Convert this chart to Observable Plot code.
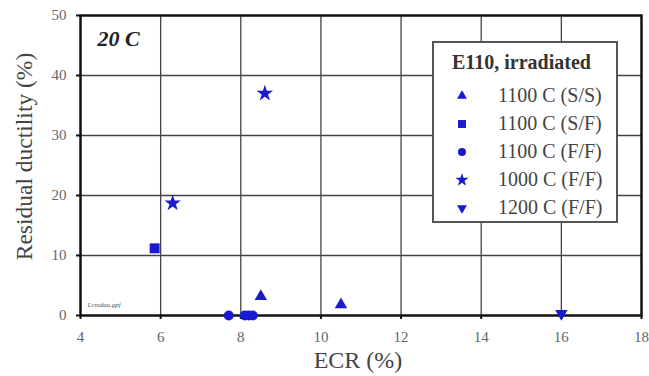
<!DOCTYPE html>
<html>
<head>
<meta charset="utf-8">
<script src="https://cdn.jsdelivr.net/npm/d3@7"></script>
<script src="https://cdn.jsdelivr.net/npm/@observablehq/plot@0.6"></script>
<style>
  body { margin: 0; background: #fff; }
  #wrap { position: relative; width: 649px; height: 376px; font-family: "Liberation Serif", "Times New Roman", "DejaVu Serif", serif; }
  #wrap > svg { position: absolute; left: 0; top: 0; }
  #legend { position: absolute; left: 432px; top: 41px; width: 182px; height: 178px;
            border: 2px solid #555; background: #fff; font-family: "Liberation Serif", "Times New Roman", "DejaVu Serif", serif; }
  #legend .title { font-weight: bold; font-size: 20px; color: #333; position: absolute; left: 18px; top: 8px; white-space: nowrap; }
  #legend .row { position: absolute; left: 0; height: 28px; width: 182px; font-size: 20px; color: #444; white-space: nowrap; }
  #legend .row svg { position: absolute; left: 20px; top: 5px; }
  #legend .row span { position: absolute; left: 64px; top: 1px; }
</style>
</head>
<body>
<div id="wrap"></div>
<script>
// ---- data ----
const xTicks = [4, 6, 8, 10, 12, 14, 16, 18];
const yTicks = [0, 10, 20, 30, 40, 50];
const seriesNames = ["1100 C (S/S)", "1100 C (S/F)", "1100 C (F/F)", "1000 C (F/F)", "1200 C (F/F)"];
const ss1100X = [8.5, 10.5];
const ss1100Y = [3.2, 1.8];
const sf1100X = [5.85];
const sf1100Y = [11.2];
const ff1100X = [7.7, 8.1, 8.2, 8.3];
const ff1100Y = [0, 0, 0, 0];
const ff1000X = [6.3, 8.6];
const ff1000Y = [18.7, 37];
const ff1200X = [16.0];
const ff1200Y = [0.3];

const blue = "#1a1ad0";
const serif = "'Liberation Serif', 'Times New Roman', 'DejaVu Serif', serif";

const triangleDown = {
  draw(context, size) {
    const sqrt3 = Math.sqrt(3);
    const y = -Math.sqrt(size / (sqrt3 * 3));
    context.moveTo(0, -y * 2);
    context.lineTo(-sqrt3 * y, y);
    context.lineTo(sqrt3 * y, y);
    context.closePath();
  }
};

const pts = (xs, ys) => xs.map((x, i) => ({x, y: ys[i]}));
const series = [
  {name: seriesNames[0], data: pts(ss1100X, ss1100Y), symbol: d3.symbolTriangle, r: 4.6},
  {name: seriesNames[1], data: pts(sf1100X, sf1100Y), symbol: d3.symbolSquare, r: 5.6},
  {name: seriesNames[2], data: pts(ff1100X, ff1100Y), symbol: d3.symbolCircle, r: 5},
  {name: seriesNames[3], data: pts(ff1000X, ff1000Y), symbol: d3.symbolStar, r: 5.2},
  {name: seriesNames[4], data: pts(ff1200X, ff1200Y), symbol: triangleDown, r: 4.6}
];

const chart = Plot.plot({
  width: 649,
  height: 376,
  marginLeft: 80,
  marginRight: 8,
  marginTop: 15,
  marginBottom: 61,
  style: {fontFamily: serif, fontSize: "15px", background: "transparent"},
  x: {domain: [4, 18]},
  y: {domain: [0, 50]},
  marks: [
    Plot.gridX(xTicks.slice(1, -1), {stroke: "#444", strokeOpacity: 1, strokeWidth: 1.3}),
    Plot.gridY(yTicks.slice(1, -1), {stroke: "#444", strokeOpacity: 1, strokeWidth: 1.3}),
    Plot.frame({stroke: "#111", strokeWidth: 2.5}),
    Plot.axisX(xTicks, {tickSize: 4, tickPadding: 12, fontSize: 15, fontFamily: serif, fill: "#666", stroke: "#111", strokeWidth: 2, label: null}),
    Plot.axisY(yTicks, {tickSize: 4, tickPadding: 10, fontSize: 15, fontFamily: serif, fill: "#666", stroke: "#111", strokeWidth: 2, label: null}),
    Plot.text(["ECR (%)"], {frameAnchor: "bottom", dx: -3, dy: 45, lineAnchor: "middle", fontSize: 24, fontFamily: serif, fill: "#444"}),
    Plot.text(["Residual ductility (%)"], {frameAnchor: "left", dx: -56, dy: -9, rotate: -90, textAnchor: "middle", lineAnchor: "middle", fontSize: 23.5, fontFamily: serif, fill: "#444"}),
    Plot.text(["20 C"], {frameAnchor: "top-left", dx: 17, dy: 15, fontSize: 22, fontFamily: serif, fontWeight: "bold", fontStyle: "italic", fill: "#222", lineAnchor: "top", textAnchor: "start"}),
    Plot.text(["Lcmdaa.gpf"], {frameAnchor: "bottom-left", dx: 7, dy: -9, fontSize: 7, fontFamily: serif, fontStyle: "italic", fill: "#555", textAnchor: "start"}),
    ...series.map(s => Plot.dot(s.data, {x: "x", y: "y", symbol: () => s.symbol, r: s.r, fill: blue, stroke: "none"}))
  ]
});

const wrap = document.getElementById("wrap");
wrap.appendChild(chart);

// legend box
const legend = document.createElement("div");
legend.id = "legend";
const title = document.createElement("div");
title.className = "title";
title.textContent = "E110, irradiated";
legend.appendChild(title);
series.forEach((s, i) => {
  const row = document.createElement("div");
  row.className = "row";
  row.style.top = (40 + i * 28) + "px";
  const sym = d3.create("svg").attr("width", 16).attr("height", 16);
  const lr = s.r * 0.8;
  sym.append("path").attr("transform", "translate(8,8)").attr("fill", blue)
    .attr("d", d3.symbol(s.symbol, Math.PI * lr * lr)());
  row.appendChild(sym.node());
  const span = document.createElement("span");
  span.textContent = s.name;
  row.appendChild(span);
  legend.appendChild(row);
});
wrap.appendChild(legend);
</script>
</body>
</html>
